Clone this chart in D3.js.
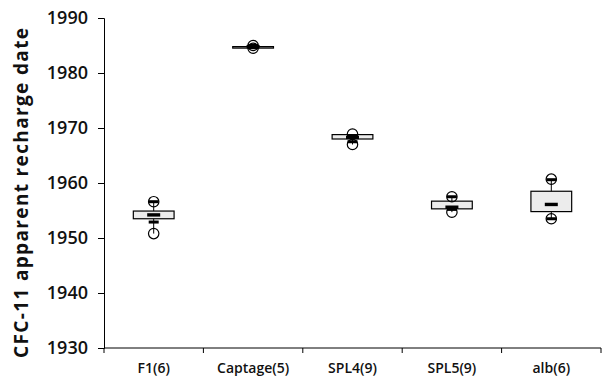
<!DOCTYPE html>
<html>
<head>
<meta charset="utf-8">
<script src="https://cdn.jsdelivr.net/npm/d3@7"></script>
<style>
  body { margin: 0; background: #fff; }
  svg { display: block; }
  text { font-family: "Open Sans", "Noto Sans", sans-serif; }
</style>
</head>
<body>
<svg width="603" height="378"></svg>
<script>
// data
const categories = ["F1(6)", "Captage(5)", "SPL4(9)", "SPL5(9)", "alb(6)"];
const q1Values = [1953.5, 1984.8, 1968.0, 1955.3, 1954.8];
const medianValues = [1954.2, 1984.8, 1968.3, 1955.6, 1956.1];
const q3Values = [1954.9, 1984.8, 1968.8, 1956.7, 1958.5];
const lowDashes = [1952.9, 1984.6, 1967.5, 1955.2, 1953.5];
const highDashes = [1956.6, 1985.0, 1968.6, 1957.5, 1960.6];
const lowPoints = [1950.8, 1984.5, 1967.0, 1954.7, 1953.5];
const highPoints = [1956.6, 1985.0, 1968.9, 1957.5, 1960.7];
const yTicks = [1930, 1940, 1950, 1960, 1970, 1980, 1990];

const svg = d3.select("svg");
const margin = { top: 18, right: 2, bottom: 30, left: 104 };
const width = +svg.attr("width") - margin.left - margin.right;
const height = +svg.attr("height") - margin.top - margin.bottom;
const g = svg.append("g").attr("transform", `translate(${margin.left},${margin.top})`);

const rows = categories.map((c, i) => ({
    cat: c, q1: q1Values[i], med: medianValues[i], q3: q3Values[i],
    lo: lowDashes[i], hi: highDashes[i], pLo: lowPoints[i], pHi: highPoints[i]
}));

const x = d3.scaleBand().domain(categories).range([0, width]);
const y = d3.scaleLinear().domain([1930, 1990]).range([height, 0]);

// Y axis
const yAxis = g.append("g")
    .call(d3.axisLeft(y).tickValues(yTicks).tickFormat(d3.format("d")).tickSize(6).tickPadding(10));
yAxis.select(".domain").attr("stroke", "#000");
yAxis.selectAll(".tick line").attr("stroke", "#000");
yAxis.selectAll(".tick text")
    .attr("fill", "#111")
    .style("font-size", "18px")
    .style("font-weight", "600");

// X axis: ticks at category boundaries
const xAxisGroup = g.append("g").attr("transform", `translate(0,${height})`);
xAxisGroup.append("line").attr("x1", 0).attr("x2", width).attr("stroke", "#000");
const bounds = categories.map(c => x(c)).concat([width]);
xAxisGroup.selectAll(".btick")
    .data(bounds)
    .enter()
    .append("line")
    .attr("x1", d => d).attr("x2", d => d)
    .attr("y1", 0).attr("y2", 5)
    .attr("stroke", "#000");
xAxisGroup.selectAll(".xlabel")
    .data(categories)
    .enter()
    .append("text")
    .attr("x", d => x(d) + x.bandwidth() / 2)
    .attr("y", 25)
    .attr("text-anchor", "middle")
    .attr("fill", "#111")
    .style("font-size", "14px")
    .style("font-weight", "600")
    .text(d => d);

// Y axis title
svg.append("text")
    .attr("transform", "translate(28,193) rotate(-90)")
    .attr("text-anchor", "middle")
    .attr("fill", "#111")
    .attr("textLength", 330)
    .attr("lengthAdjust", "spacing")
    .style("font-size", "19px")
    .style("font-weight", "700")
    .text("CFC-11 apparent recharge date");

const boxW = x.bandwidth() * 0.41;
const cx = d => x(d.cat) + x.bandwidth() / 2;

const groups = g.selectAll(".box")
    .data(rows)
    .enter()
    .append("g")
    .attr("class", "box");

// whisker line
groups.append("line")
    .attr("x1", cx).attr("x2", cx)
    .attr("y1", d => y(d.pHi)).attr("y2", d => y(d.pLo))
    .attr("stroke", "#000");

// box
groups.append("rect")
    .attr("x", d => cx(d) - boxW / 2)
    .attr("width", boxW)
    .attr("y", d => y(d.q3))
    .attr("height", d => Math.max(y(d.q1) - y(d.q3), 1.5))
    .attr("fill", "#ececec")
    .attr("stroke", "#000")
    .attr("stroke-width", 1.2);

// median dash
groups.append("rect")
    .attr("x", d => cx(d) - 6.5)
    .attr("width", 13)
    .attr("y", d => y(d.med) - 1.7)
    .attr("height", 3.4)
    .attr("fill", "#000");

// whisker end dashes
["lo", "hi"].forEach(k => {
    groups.append("rect")
        .attr("x", d => cx(d) - 5)
        .attr("width", 10)
        .attr("y", d => y(d[k]) - 1.5)
        .attr("height", 3)
        .attr("fill", "#000");
});

// circles
["pLo", "pHi"].forEach(k => {
    groups.append("circle")
        .attr("cx", cx)
        .attr("cy", d => y(d[k]))
        .attr("r", 5.2)
        .attr("fill", "none")
        .attr("stroke", "#000")
        .attr("stroke-width", 1.2);
});
</script>
</body>
</html>
